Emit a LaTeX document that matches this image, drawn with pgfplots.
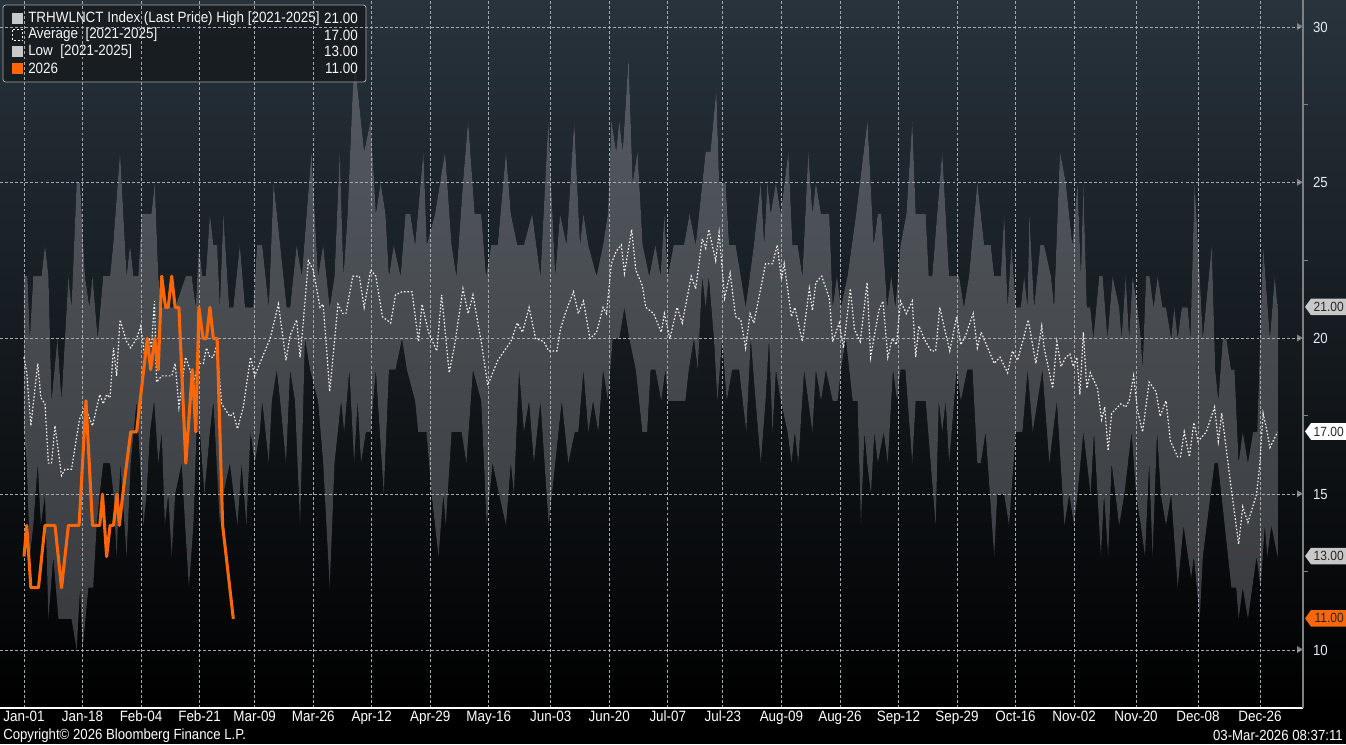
\documentclass[border=0pt]{standalone}
\usepackage{fontspec}
\setmainfont{Liberation Sans}[FakeStretch=0.9]
\usepackage{pgfplots}
\usepackage{pgfplotstable}
\pgfplotsset{compat=1.18}
\usepgfplotslibrary{fillbetween}
\definecolor{bgtop}{RGB}{40,51,60}
\definecolor{bandtop}{RGB}{84,90,97}
\definecolor{bandbot}{RGB}{56,58,61}
\definecolor{orng}{RGB}{250,102,10}
\definecolor{gridc}{RGB}{165,170,176}
\definecolor{lab}{RGB}{228,236,245}
\definecolor{flaggray}{RGB}{200,200,200}
\definecolor{legbg}{RGB}{22,26,30}

\pgfplotstableread{
x y
0 22
1 22
1.7 20
2.7 22
5.1 22
6.1 23
7.1 22
8 18
9.7 20
10.9 18
12.9 22
13.8 21
15.3 25
16.3 25
17.7 22
19 21
19.9 22
21.4 20
23 22
25 22
25.9 23
27.9 26
29.8 22
30.8 23
31.8 22
33.2 22
34.2 24
37 24
38 25
39 22
40 21
43.9 21
47 22
48.7 22
49.9 21
50.8 23
51.8 22
52.8 22
54 24
55 23
56.1 23
56.9 21
57.9 24
59.6 21
60.8 21
62.7 23
64.2 21
66.6 21
67.7 23
69.2 23
71.1 21
72.5 25
74.4 23
76.3 21
77.3 21
79.2 23
80.7 22
83.5 26
85.4 22
86.9 23
88.8 21
90.2 22
91.7 26
92.8 22
94 24
95.5 28
96.3 29
96.9 28
98.8 26
100.7 27
102.2 24
103.6 25
105 24
106 22
107.4 23
109.4 22
110.8 24
112.2 24
113.6 23
116 26
117 23
119.4 24
122.3 26
124.2 23
125.6 22
127.5 25
129 27
130.9 24
132.8 24
134.2 22
135.7 23
137.6 23
140 26
141.4 24
143.3 23
145.2 23
147.6 24
150 22
152.3 27
154.3 22
155.7 24
157.6 23
159.8 27
161.5 23
162.5 24
163.9 23
166.3 22
168.2 23
169.6 24
170.6 27
172 26
172.9 27
173.9 26
175.6 29
176.8 25
178.2 26
179.7 23
181.6 22
183.4 23
184.9 22
186 24
187 22
188.7 23
191.7 23
193.3 24
195.1 23
198 26
199.4 26
201.1 28
201.9 25
203.8 25
204.8 23
206.7 23
208.2 22
209.6 21
212 23
214 25
215 23
215.9 25
216.9 24
218.4 25
219.8 24
222 26
223.2 23
224.7 23
226.1 22
227.8 26
229 24
230 25
231.5 24
233.9 24
234.9 21
236.1 22
237.3 21
239.2 22
241.7 24
245 27
246.8 23
248 24
249 24
250.7 21
251.9 22
253.1 21
254.6 23
256.3 24
258 27
259 24
261.9 24
262.8 22
263.8 22
266.7 26
268.7 22
271.6 22
273 21
274.5 22
276.9 25
278.9 23
280.8 23
281.8 22
283.7 22
284.7 24
285.7 21
286.8 23
288.1 21
289.5 21
290.5 22
291.5 21
292 24
293.4 21
295.2 23
296.3 23
298.3 22
299.2 21
300.9 26
302.6 25
304.5 23
306 25
307 22
307.7 25
308.7 21
309.7 21
310.6 20
312.3 22
313.3 22
314.7 20
316.2 22
318.1 21
318.8 20
320 22
321 20
322 22
323.4 21
324.4 20
324.9 19
325.9 22
326.9 22
328.1 21
329.3 22
330.7 21
331.7 21
333.2 20
334.1 21
335.1 20
336.3 21
338 21
338.8 20
340 25
341.5 22
342.4 20
345 23
346 19
346.9 18
348.2 20
349.2 20
350.6 19
351.6 19
352.8 16
354 17
355.5 16
357 17
358.2 17
359.9 23
361.9 20
363.3 22
364.1 21
}\highdata

\pgfplotstableread{
x y
0 17
0.8 16
1.7 13
2.7 14
4 16
4.9 14
6.1 15
7.1 11
8.5 13
10 11
13.8 11
15.3 10
16.3 12
17 10
18.7 12
20.1 12
21.1 14
22 15
23 16
25 16
26 15
26.9 13
28 16
29.8 13
31 16
32.7 18
33.7 16
34.7 14
35.6 15
36.6 17
37.8 18
39 16
40 17
40.9 14
41.9 15
42.9 13
43.9 15
45.8 16
46.8 14
47.9 12
49.2 14
50.1 17
51.1 17
52.4 15
54 17
55 18
56.9 14
57.9 15
59.8 16
62 14
63.2 16
64.6 14
65.8 17
67 16
68.5 17
69.2 18
71.1 16
72 18
73.4 19
74.4 18
76.1 16
77.3 19
78.7 18
80.2 14
81.6 20
83.1 19
85.4 18
86.9 16
88.8 12
90.2 16
92.1 18
93 17
94.5 19
95.9 16
96.9 18
97.9 16
99.3 17
100.7 17
102.2 19
104.5 15
106 19
107.9 19
109.8 20
111.2 19
113.6 18
114.5 17
116.9 17
118.4 15
120.4 13
121.8 15
122.5 14
124.2 17
127.1 17
128.5 16
130.4 19
132.8 18
134.4 14
136.1 16
138 15
140 14
141.4 16
142.3 15
143.8 19
145.2 17
146.7 18
148.1 16
150 18
152.4 14
154.3 16
156.2 18
158.1 16
160 17
161 17
162.5 19
163.9 17
165.3 18
166.8 17
168.2 19
169.6 18
171 20
172.9 20
174.4 21
175.8 20
177.7 19
179.6 17
181 17
182 19
183.4 19
185.1 18
186.3 19
187 18
192.1 18
193.1 19
194.6 20
195.7 19
197 22
198 21
198.9 22
200.4 20
201.4 18
202.8 20
204.1 18
205.7 19
207.7 19
209.8 17
211.1 20
212.5 18
214 16
215.4 18
216.4 20
217.4 17
218.4 19
219.8 18
221.8 17
222.9 16
223.9 17
224.9 16
226.6 19
227.8 18
229 17
230 19
231.5 18
232.9 19
234.9 18
236.3 18
237.3 19
238.7 20
240.7 18
242.1 18
243.1 14
244.1 17
244.9 16
246 15
247 17
248 16
249.7 17
250.9 16
252.4 19
253.6 18
254.6 19
256 19
258 16
259 18
261.9 18
264.8 14
265.7 18
266.7 17
267.7 18
268.7 16
270.9 19
272.1 18
274 19
275.5 19
276.9 16
277.9 16
279.3 17
281.8 13
282.7 15
284.7 15
286.1 14
288.1 17
290 17
291.5 19
293 17
295.8 19
297.8 16
300 18
302.2 14
303.6 15
305 14
306 15
307.7 17
309.8 15
310.8 17
312.8 13
313.7 15
314.9 13
315.9 16
318.1 14
319.6 15
321.7 17
323 15
324.4 14
325.6 13
326.8 16
327.8 13
329.1 17
330.2 15
331.7 14
333.2 15
335.1 12
336.8 14
339 12.3
339.8 13
341.5 11
342.4 13
345.8 16
346.8 16
350.7 12
352.1 12
352.8 11
354 12
355.5 11
358 13
359.2 12
360.4 14
361.1 13
362.3 14
364.1 13
}\lowdata

\pgfplotstableread{
x y
0 19.4
0.8 18.9
2 17.2
4 19.2
4.9 18.1
6.1 17.9
7.1 16
8 16
9 17.2
10.9 15.6
11.9 15.8
13.8 15.8
16.1 17.4
17.7 17.8
19.9 17.2
22 18.2
23 17.9
24 18.2
25 18.1
26 19.7
26.9 18.8
27.9 20.6
29.8 19.9
31 19.7
32.7 20
33.9 20.4
35.1 19.4
36.4 20
37 19.7
37.9 21.2
38.5 18.6
40 18.8
42.9 18.8
43.9 19.2
45 17.8
46 18.6
46.9 19.4
47.9 19.1
49.2 18.6
50.8 19.2
52.1 19.2
53 19.7
54 19.4
55 19.4
56 19.8
57.4 17.9
59.8 17.5
60.8 17.6
62 17.1
63.7 17.8
65.8 19.4
67 18.8
69.6 19.5
71.5 20
73.9 21.1
76.1 19.3
77.3 20.1
79.2 20.6
80.2 19.4
81.1 20.5
82.6 22.5
84 22.2
86 21
86.9 21.1
88.8 18.3
91.2 21.1
92.6 20.8
93.5 20.8
95.5 22
97.4 22
98.8 21
100.7 22.2
102.2 22
104.1 20.7
106.5 20.5
107.9 21.4
109.8 21.5
112.7 21.5
114.6 19.9
115.6 21.1
117.5 20.2
119.9 19.6
121.3 21.4
123.5 18.9
125.1 19.8
127.5 21.6
129 20.8
130.4 21.4
132.8 19.9
134.7 18.5
137.6 19.3
141.4 19.9
143.3 20.5
144.8 20.2
146.7 21
148.6 20
151 19.9
152.4 19.6
154.8 19.6
155.8 20.3
157.2 20.8
159.6 21.5
161 20.8
162.5 21.2
164.4 20
166.3 20.2
168.2 21
169.2 20.8
170.6 22.4
172 22.8
173.5 23
174.4 22.1
176.5 23.5
177.7 22.2
179.6 21.7
180.6 21
182.9 20.8
185.1 20.2
186 20.8
187.6 20
189.7 21
191.2 20.5
193.8 22
195.1 21.6
197 23.2
198 22.9
198.9 23.5
200.9 22.5
201.9 23.4
203.5 21.3
205.1 22.1
206.7 20.7
208.2 20.6
209.6 19.7
210.9 20.8
212 20.5
215.4 22.4
217.4 22.4
218.8 23
220 21.9
220.8 22.4
222.9 20.7
223.9 21
226.1 19.9
228.1 21.6
229 20.9
230 21.8
231.7 22
233.9 21.3
234.9 19.9
236.8 20.5
238 19.7
240 21.6
241.2 20.3
242.9 19.9
244.9 21.8
245.9 19.4
248.3 20.9
249.5 21.2
250.9 19.4
252.2 20
253.4 19.8
254.6 21.2
256.3 20.8
258 21.2
259 19.4
259.9 20.4
261.9 19.9
263.5 19.6
264.8 19.6
266 21
267.4 20.3
268.9 19.6
270.9 20.7
272.1 19.8
273.5 20.1
275.7 20.8
276.9 19.7
278 20.2
280.3 19.6
281.8 19.2
283.5 19.4
285.7 18.9
287.1 19.6
288.6 19.3
291.7 20.6
293.9 19.2
295.6 20.4
296.3 19.7
298.8 18.4
300 19.9
301.2 19.1
302.6 19.4
303.8 19.5
304.8 19.1
305.8 19.4
306.7 18.2
307.7 20.2
308.7 18.4
309.7 18.9
311.8 18.4
313 17.4
313.9 17.8
314.9 16.4
315.9 17.6
318.6 17.9
320 17.8
321 18
322.3 18.8
323.4 17.7
324.9 17
326.8 18.6
328.8 18.3
330 17.5
331.7 18
333 16.7
335.1 16.2
335.9 16.2
337 17
338.5 16.2
339.8 17.3
341 16.7
343.4 17
345.8 17.8
346.9 16.7
347.9 17.6
350.4 15.4
352.8 13.4
354 14.6
355.5 14.1
358 15
358.9 15.9
359.9 17.6
360.9 17.1
361.9 16.5
364.1 17
}\avgdata

\pgfplotstableread{
x y
0 13
0.8 14
2 12
4.2 12
6.1 14
9 14
10.9 12
12.9 14
16 14
18 18
19.9 14
22 14
22.8 15
24 13
25 14
26 14
27 15
27.7 14
28.7 15
31 17
32.7 17
35.8 20
36.8 19
38 20
39 19
40 22
41.1 21
41.9 21
42.9 22
43.9 21
45 21
47 16
48.9 19
49.9 17
50.8 21
52 20
53 20
54 21
55 20
56.1 20
57.7 14
60.8 11
}\curdata

\begin{document}
\begin{tikzpicture}
% right margin strip (outside the axis) and bottom strip
\shade[top color=bgtop, bottom color=black] (977.25pt,0) rectangle (1009.5pt,-531pt);
\fill[black] (0,-531pt) rectangle (1009.5pt,-558pt);
\begin{axis}[
  at={(0pt,-531pt)}, anchor=south west,
  scale only axis, width=977.25pt, height=531pt,
  xmin=-6.97, xmax=371.5, ymin=8.138, ymax=30.867,
  set layers, axis on top,
  axis background/.style={shade, top color=bgtop, bottom color=black},
  axis x line*=bottom, axis y line*=right,
  x axis line style={white, line width=1.2pt, -},
  y axis line style={draw=gray, line width=0.8pt, -},
  xtick={0,17,34,51,67,84,101,118,135,153,170,187,203,220,237,254,271,288,305,323,341,359},
  xticklabels={Jan-01,Jan-18,Feb-04,Feb-21,Mar-09,Mar-26,Apr-12,Apr-29,May-16,Jun-03,Jun-20,Jul-07,Jul-23,Aug-09,Aug-26,Sep-12,Sep-29,Oct-16,Nov-02,Nov-20,Dec-08,Dec-26},
  ytick={10,15,20,25,30},
  grid=major,
  major grid style={gridc, line width=0.6pt, dash pattern=on 2.2pt off 1.6pt},
  xtick style={draw=none}, ytick style={draw=none},
  xticklabel style={font=\fontsize{11.2}{12}\selectfont, text=white, yshift=1.5pt},
  yticklabel style={font=\fontsize{11}{12}\selectfont, text=lab, xshift=4pt},
  /pgf/number format/assume math mode=true,
  clip=true,
]
\addplot[name path=H, draw=none, forget plot] table {\highdata};
\addplot[name path=L, draw=none, forget plot] table {\lowdata};
\addplot[top color=bandtop, bottom color=bandbot, draw=none] fill between[of=H and L];
\addplot[on layer=axis foreground, white!88!gray, line width=0.9pt, dash pattern=on 1.2pt off 1.4pt] table {\avgdata};
\addplot[on layer=axis foreground, orng, line width=2.3pt, line join=round] table {\curdata};
\end{axis}
\begin{scope}[x=0.75pt, y=-0.75pt]
  % legend
  \fill[legbg, opacity=0.82, rounded corners=2] (3,5) rectangle (366,82);
  \draw[gray!70, line width=0.6pt, rounded corners=2] (3,5) rectangle (366,82);
  \fill[flaggray] (12,13) rectangle (23,24);
  \draw[white, line width=0.7pt, dash pattern=on 1.5pt off 1.5pt] (12.5,29.5) rectangle (22.5,40.5);
  \fill[flaggray] (12,46) rectangle (23,57);
  \fill[orng] (12,63) rectangle (23,74);
  \begin{scope}[every node/.style={inner sep=0pt, text=white!93!gray, font=\fontsize{11.2}{12}\selectfont}]
    \node[anchor=west] at (28,18.5) {TRHWLNCT Index (Last Price) High [2021-2025]};
    \node[anchor=west] at (28,35) {Average~ [2021-2025]};
    \node[anchor=west] at (28,51.5) {Low~ [2021-2025]};
    \node[anchor=west] at (28,68) {2026};
    \node[anchor=east] at (358,18.5) {21.00};
    \node[anchor=east] at (358,35) {17.00};
    \node[anchor=east] at (358,51.5) {13.00};
    \node[anchor=east] at (358,68) {11.00};
  \end{scope}
  % right axis tick markers
  \foreach \yy in {26.5,182.25,338,493.75,649.5} {
    \fill[gray] (1297,\yy-3.5) -- (1303,\yy) -- (1297,\yy+3.5) -- cycle;
  }
  \foreach \yy in {104.4,260.1,415.9,571.6} {
    \draw[gray, line width=0.7pt] (1303,\yy) -- (1308,\yy);
  }
  % last value flags
  \foreach \v/\yy/\fc in {21.00/306.85/flaggray, 17.00/431.45/white, 13.00/556.05/flaggray, 11.00/618.35/orng} {
    \fill[\fc] (1305,\yy) -- (1311,\yy-8.3) -- (1346,\yy-8.3) -- (1346,\yy+8.3) -- (1311,\yy+8.3) -- cycle;
    \node[anchor=east, inner sep=0pt, text=black!85, font=\fontsize{10}{11}\selectfont] at (1344,\yy) {\v};
  }
  % footer
  \node[anchor=west, inner sep=0pt, text=white, font=\fontsize{11}{12}\selectfont] at (3,735.5) {Copyright© 2026 Bloomberg Finance L.P.};
  \node[anchor=east, inner sep=0pt, text=white, font=\fontsize{11}{12}\selectfont] at (1343,735.5) {03-Mar-2026 08:37:11};
\end{scope}
\pgfresetboundingbox
\useasboundingbox (0,0) rectangle (1009.5pt,-558pt);
\end{tikzpicture}
\end{document}
